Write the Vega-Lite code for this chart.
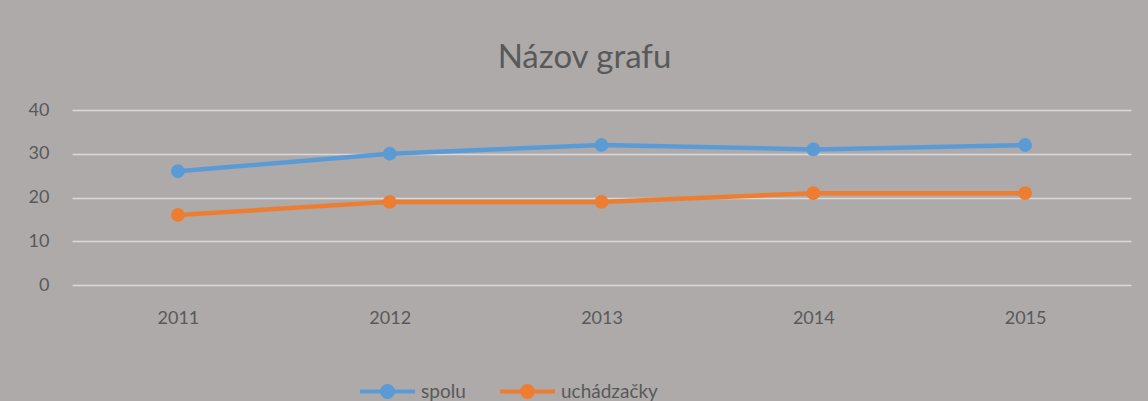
{
  "$schema": "https://vega.github.io/schema/vega-lite/v6.json",
  "width": 1059,
  "height": 175,
  "autosize": "none",
  "padding": {"left": 72, "top": 110, "right": 17, "bottom": 116},
  "background": "#AEAAAA",
  "title": {
    "text": "Názov grafu",
    "fontSize": 33,
    "font": "Lato",
    "fontWeight": "normal",
    "color": "#595959",
    "anchor": "middle",
    "dx": -17,
    "offset": 26
  },
  "data": {
    "values": [
      {"rok": "2011", "seria": "spolu", "hodnota": 26},
      {"rok": "2012", "seria": "spolu", "hodnota": 30},
      {"rok": "2013", "seria": "spolu", "hodnota": 32},
      {"rok": "2014", "seria": "spolu", "hodnota": 31},
      {"rok": "2015", "seria": "spolu", "hodnota": 32},
      {"rok": "2011", "seria": "uchádzačky", "hodnota": 16},
      {"rok": "2012", "seria": "uchádzačky", "hodnota": 19},
      {"rok": "2013", "seria": "uchádzačky", "hodnota": 19},
      {"rok": "2014", "seria": "uchádzačky", "hodnota": 21},
      {"rok": "2015", "seria": "uchádzačky", "hodnota": 21}
    ]
  },
  "encoding": {
    "x": {
      "field": "rok",
      "type": "ordinal",
      "scale": {"type": "point", "padding": 0.5},
      "axis": {
        "title": null,
        "labelAngle": 0,
        "domain": false,
        "ticks": false,
        "labelPadding": 24,
        "grid": false
      }
    },
    "y": {
      "field": "hodnota",
      "type": "quantitative",
      "scale": {"domain": [0, 40], "nice": false},
      "axis": {
        "title": null,
        "values": [0, 10, 20, 30, 40],
        "domain": false,
        "ticks": false,
        "labelPadding": 23,
        "grid": true,
        "gridColor": "#D9D9D9",
        "gridWidth": 1.5
      }
    },
    "color": {
      "field": "seria",
      "type": "nominal",
      "scale": {"domain": ["spolu", "uchádzačky"], "range": ["#5B9BD5", "#ED7D31"]},
      "legend": {
        "title": null,
        "orient": "none",
        "direction": "horizontal",
        "legendX": 286,
        "legendY": 252,
        "symbolType": "M-1,0L1,0M0.2,0A0.2,0.2,0,1,1,-0.2,0A0.2,0.2,0,1,1,0.2,0Z",
        "symbolSize": 3025,
        "symbolStrokeWidth": 4,
        "labelOffset": 4,
        "columnPadding": 26,
        "labelFontSize": 19,
        "labelFont": "Lato",
        "labelColor": "#595959"
      }
    }
  },
  "layer": [
    {"mark": {"type": "line", "strokeWidth": 4.5}},
    {"mark": {"type": "point", "filled": true, "opacity": 1, "size": 190}}
  ],
  "config": {
    "view": {"stroke": null},
    "axis": {"labelFont": "Lato", "labelFontSize": 18, "labelColor": "#595959"}
  }
}
